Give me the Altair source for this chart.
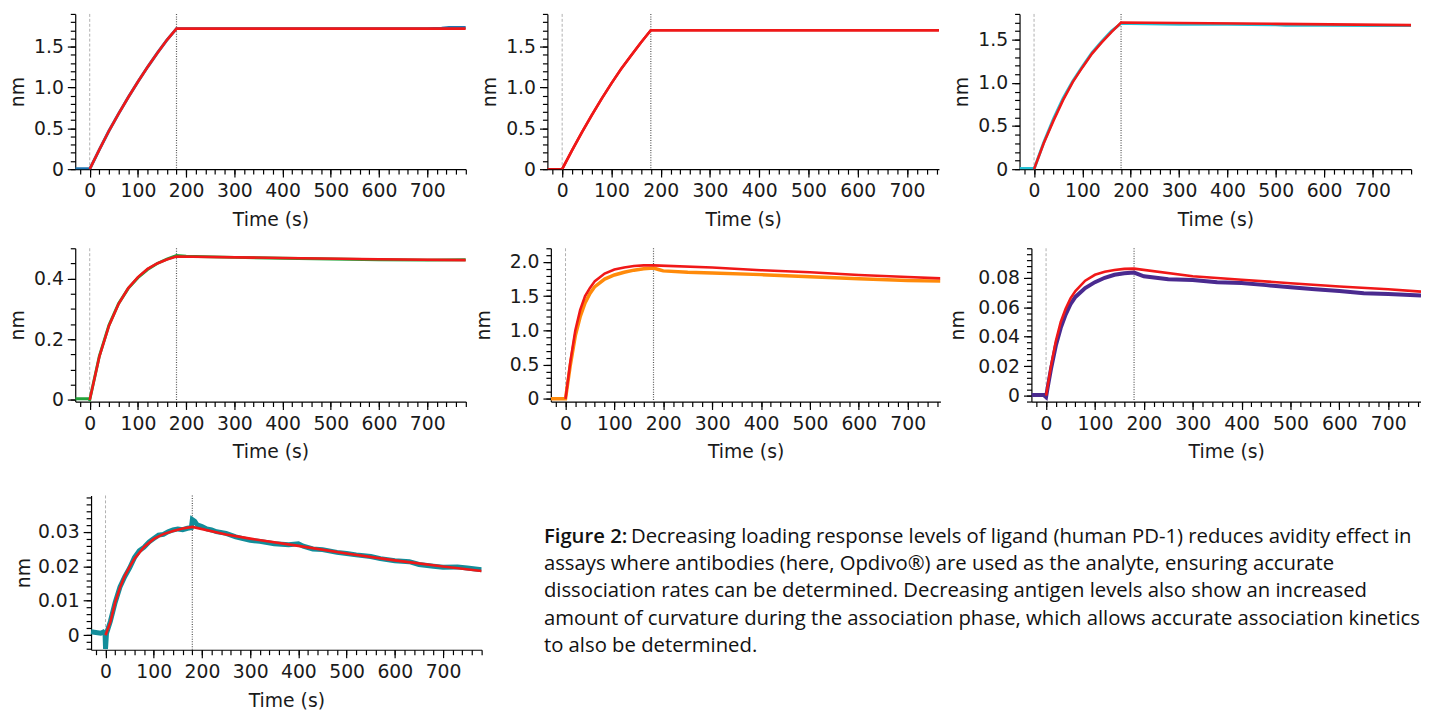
import altair as alt
import pandas as pd
import numpy as np

FONT = "DejaVu Sans"
CAP_FONT = "Open Sans"
RED = "#f01818"

# ---------------- data (time in s, response in nm) ----------------
PHASE_T = [0, 180]
X_MAJOR = [0, 100, 200, 300, 400, 500, 600, 700]

# Panel 1 (blue)
p1_data_t = [-30, -2, 0, 20, 40, 60, 80, 100, 120, 140, 160, 180, 400, 660, 700, 730, 745, 780]
p1_data_v = [0.006, 0.006, 0.0, 0.24, 0.47, 0.68, 0.88, 1.07, 1.25, 1.42, 1.58, 1.72, 1.72, 1.72, 1.72, 1.725, 1.735, 1.735]
p1_fit_t = [0, 20, 40, 60, 80, 100, 120, 140, 160, 180, 780]
p1_fit_v = [0.0, 0.24, 0.47, 0.68, 0.88, 1.07, 1.25, 1.42, 1.58, 1.72, 1.72]

# Panel 2 (red)
p2_data_t = [-30, 0, 20, 40, 60, 80, 100, 120, 140, 160, 180, 765]
p2_data_v = [0.0, 0.0, 0.23, 0.45, 0.66, 0.86, 1.05, 1.23, 1.39, 1.55, 1.70, 1.70]
p2_fit_t = [0, 20, 40, 60, 80, 100, 120, 140, 160, 180, 765]
p2_fit_v = [0.0, 0.23, 0.45, 0.66, 0.86, 1.05, 1.23, 1.39, 1.55, 1.70, 1.70]

# Panel 3 (cyan)
p3_data_t = [-30, -2, 0, 20, 40, 60, 80, 100, 120, 140, 160, 180, 200, 300, 400, 500, 520, 600, 700, 780]
p3_data_v = [0.008, 0.008, 0.0, 0.31, 0.58, 0.82, 1.02, 1.19, 1.35, 1.48, 1.60, 1.69, 1.69, 1.68, 1.68, 1.675, 1.67, 1.67, 1.665, 1.665]
p3_fit_t = [0, 20, 40, 60, 80, 100, 120, 140, 160, 180, 300, 500, 780]
p3_fit_v = [0.0, 0.30, 0.56, 0.80, 1.01, 1.18, 1.34, 1.47, 1.59, 1.70, 1.695, 1.685, 1.67]

# Panel 4 (green)
p4_data_t = [-30, -2, 0, 20, 40, 60, 80, 100, 120, 140, 160, 180, 200, 300, 400, 500, 600, 700, 780]
p4_data_v = [0.004, 0.004, 0.0, 0.145, 0.247, 0.318, 0.368, 0.403, 0.430, 0.450, 0.464, 0.476, 0.474, 0.470, 0.467, 0.465, 0.462, 0.461, 0.462]
p4_fit_t = [0, 20, 40, 60, 80, 100, 120, 140, 160, 180, 400, 600, 780]
p4_fit_v = [0.0, 0.143, 0.245, 0.317, 0.369, 0.405, 0.432, 0.450, 0.463, 0.473, 0.468, 0.464, 0.461]

# Panel 5 (orange)
p5_data_t = [-30, 0, 10, 20, 30, 40, 50, 60, 80, 100, 120, 140, 160, 180, 190, 200, 250, 300, 400, 500, 600, 700, 767]
p5_data_v = [0.0, 0.0, 0.50, 0.92, 1.20, 1.40, 1.54, 1.64, 1.75, 1.81, 1.85, 1.88, 1.90, 1.91, 1.89, 1.87, 1.85, 1.84, 1.815, 1.785, 1.755, 1.73, 1.72]
p5_fit_t = [0, 10, 20, 30, 40, 50, 60, 80, 100, 120, 140, 160, 180, 300, 400, 500, 600, 700, 767]
p5_fit_v = [0.0, 0.55, 1.00, 1.30, 1.50, 1.62, 1.72, 1.83, 1.89, 1.92, 1.94, 1.95, 1.95, 1.92, 1.88, 1.85, 1.81, 1.78, 1.76]

# Panel 6 (purple)
p6_data_t = [-30, -5, 0, 3, 10, 20, 30, 40, 50, 60, 80, 100, 120, 140, 160, 180, 200, 250, 300, 350, 400, 450, 500, 550, 600, 650, 700, 767]
p6_data_v = [0.0005, 0.0005, -0.001, 0.005, 0.018, 0.034, 0.046, 0.055, 0.062, 0.067, 0.073, 0.077, 0.080, 0.082, 0.083, 0.0835, 0.081, 0.079, 0.0785, 0.077, 0.0765, 0.075, 0.0735, 0.0722, 0.071, 0.0695, 0.069, 0.068]
p6_fit_t = [0, 10, 20, 30, 40, 50, 60, 80, 100, 120, 140, 160, 180, 300, 400, 500, 600, 700, 767]
p6_fit_v = [0.0, 0.020, 0.037, 0.050, 0.059, 0.066, 0.071, 0.078, 0.082, 0.084, 0.0853, 0.086, 0.0862, 0.081, 0.0787, 0.0763, 0.074, 0.0722, 0.0706]

# Panel 7 (teal)
p7_data_t = [-30, -20, -10, -5, -1, 0, 2, 10, 20, 30, 40, 50, 60, 70, 80, 90, 100, 110, 120, 130, 140, 150, 160, 170, 178,
             180, 185, 190, 200, 210, 220, 230, 250, 270, 300, 320, 350, 380, 400, 410, 430, 450, 480, 500, 520, 550, 570,
             600, 630, 650, 680, 700, 730, 750, 780]
p7_data_v = [0.0010, 0.0008, 0.0006, 0.0009, 0.0002, -0.0040, 0.0005, 0.0040, 0.0095, 0.0140, 0.0170, 0.0195, 0.0225, 0.0245,
             0.0255, 0.0270, 0.0280, 0.0290, 0.0292, 0.0300, 0.0305, 0.0308, 0.0306, 0.0310, 0.0312,
             0.0335, 0.0330, 0.0320, 0.0315, 0.0308, 0.0305, 0.0300, 0.0295, 0.0285, 0.0275, 0.0272, 0.0265, 0.0262, 0.0265,
             0.0258, 0.0250, 0.0248, 0.0240, 0.0237, 0.0233, 0.0228, 0.0222, 0.0216, 0.0213, 0.0205, 0.0200, 0.0197, 0.0198,
             0.0195, 0.0190]
p7_fit_t = [0, 10, 20, 30, 40, 50, 60, 80, 100, 120, 140, 160, 180, 250, 300, 400, 500, 600, 700, 780]
p7_fit_v = [0.0, 0.0038, 0.0095, 0.0138, 0.0172, 0.0198, 0.0222, 0.0256, 0.0279, 0.0293, 0.0302, 0.0309, 0.0314, 0.0292,
            0.0280, 0.0259, 0.0237, 0.0217, 0.0199, 0.0186]

CAPTION_BOLD = "Figure 2:"
CAPTION_LINES = [
    "Decreasing loading response levels of ligand (human PD-1) reduces avidity effect in",
    "assays where antibodies (here, Opdivo®) are used as the analyte, ensuring accurate",
    "dissociation rates can be determined. Decreasing antigen levels also show an increased",
    "amount of curvature during the association phase, which allows accurate association kinetics",
    "to also be determined.",
]


def ticks(lo, hi, step):
    n0 = int(np.ceil(lo / step - 1e-9))
    n1 = int(np.floor(hi / step + 1e-9))
    return [round(i * step, 6) for i in range(n0, n1 + 1)]


def panel(data_t, data_v, fit_t, fit_v, color, dwidth, xmax, ydom, ymajor, ystep, fmt, w, h, tpad, xoff=0):
    if xoff:
        xs = alt.Scale(domain=[-30, xmax], nice=False, zero=False, range=[xoff, w + xoff])
    else:
        xs = alt.Scale(domain=[-30, xmax], nice=False, zero=False)
    ys = alt.Scale(domain=ydom, nice=False, zero=False)
    df_d = pd.DataFrame({"t": data_t, "v": data_v})
    df_f = pd.DataFrame({"t": fit_t, "v": fit_v})
    df_p = pd.DataFrame({"t": PHASE_T, "k": ["start", "end"]})

    label_expr = f"datum.value == 0 ? '0' : format(datum.value, '{fmt}')"
    x_major = alt.Axis(orient="bottom", values=X_MAJOR, tickSize=8, title="Time (s)",
                       labelPadding=5, titlePadding=10, labelOverlap=False, labelFlush=False)
    y_major = alt.Axis(orient="left", values=ymajor, tickSize=8, title="nm", labelExpr=label_expr,
                       labelPadding=4, titlePadding=tpad, labelOverlap=False, offset=-xoff)
    x_minor = alt.Axis(orient="bottom", values=ticks(-30, xmax, 20), tickSize=5, labels=False,
                       domain=False, title=None)
    y_minor = alt.Axis(orient="left", values=ticks(ydom[0], ydom[1], ystep), tickSize=5, labels=False,
                       domain=False, title=None, offset=-xoff)

    minor = alt.Chart(df_f).mark_line(opacity=0).encode(
        x=alt.X("t:Q", scale=xs, axis=x_minor), y=alt.Y("v:Q", scale=ys, axis=y_minor))
    r0 = alt.Chart(df_p).transform_filter("datum.k == 'start'").mark_rule(
        color="#b0b0b0", strokeDash=[3, 2], strokeWidth=1).encode(x=alt.X("t:Q", scale=xs, axis=None))
    r1 = alt.Chart(df_p).transform_filter("datum.k == 'end'").mark_rule(
        color="#555555", strokeDash=[1, 1.5], strokeWidth=1.2).encode(x=alt.X("t:Q", scale=xs, axis=None))
    dline = alt.Chart(df_d).mark_line(color=color, strokeWidth=dwidth, clip=True).encode(
        x=alt.X("t:Q", scale=xs, axis=x_major), y=alt.Y("v:Q", scale=ys, axis=y_major))
    fline = alt.Chart(df_f).mark_line(color=RED, strokeWidth=2.6, clip=True).encode(
        x=alt.X("t:Q", scale=xs, axis=None), y=alt.Y("v:Q", scale=ys, axis=None))
    return alt.layer(minor, r0, r1, dline, fline).resolve_axis(x="independent", y="independent").properties(
        width=w + xoff, height=h)


p1 = panel(p1_data_t, p1_data_v, p1_fit_t, p1_fit_v, "#1f77b4", 3, 780, [0, 1.9], [0, 0.5, 1.0, 1.5], 0.1, ".1f", 395, 157, 6.5)
p2 = panel(p2_data_t, p2_data_v, p2_fit_t, p2_fit_v, "#e01010", 2.5, 765, [0, 1.9], [0, 0.5, 1.0, 1.5], 0.1, ".1f", 396, 157, 6.5)
p3 = panel(p3_data_t, p3_data_v, p3_fit_t, p3_fit_v, "#25c3d6", 3, 780, [0, 1.8], [0, 0.5, 1.0, 1.5], 0.1, ".1f", 396, 157, 6.5)
p4 = panel(p4_data_t, p4_data_v, p4_fit_t, p4_fit_v, "#22a33a", 3, 780, [-0.005, 0.5], [0, 0.2, 0.4], 0.05, ".1f", 395, 155, 6.5)
p5 = panel(p5_data_t, p5_data_v, p5_fit_t, p5_fit_v, "#ff8a0a", 3.5, 767, [-0.04, 2.2], [0, 0.5, 1.0, 1.5, 2.0], 0.1, ".1f", 394, 155, 15.5)
p6 = panel(p6_data_t, p6_data_v, p6_fit_t, p6_fit_v, "#4a2a8f", 4, 767, [-0.004, 0.1], [0, 0.02, 0.04, 0.06, 0.08], 0.004, ".2f", 394, 155, 10.5)
p7 = panel(p7_data_t, p7_data_v, p7_fit_t, p7_fit_v, "#128d9a", 5, 780, [-0.0042, 0.0405], [0, 0.01, 0.02, 0.03], 0.002, ".2f", 395, 156, 4.2, xoff=16)

# caption
cap_df = pd.DataFrame({"line": CAPTION_LINES, "row": list(range(len(CAPTION_LINES)))})
cap_layers = [
    alt.Chart(pd.DataFrame({"s": [CAPTION_BOLD]})).mark_text(
        align="left", baseline="alphabetic", font=CAP_FONT, fontSize=20.5, fontWeight=600, color="#111"
    ).encode(x=alt.value(42), y=alt.value(48), text="s:N")
]
cap_x = [130, 42, 42, 42, 42]
cap_y = [48, 75.5, 103, 130.5, 158]
for i in range(len(CAPTION_LINES)):
    cap_layers.append(
        alt.Chart(cap_df).transform_filter(f"datum.row == {i}").mark_text(
            align="left", baseline="alphabetic", font=CAP_FONT, fontSize=20.5, color="#111"
        ).encode(x=alt.value(cap_x[i]), y=alt.value(cap_y[i]), text="line:N")
    )
caption = alt.layer(*cap_layers).properties(width=900, height=156)

row1 = alt.hconcat(p1, p2, p3, spacing=13.5)
row2 = alt.hconcat(p4, p5, p6, spacing=8)
row3 = alt.hconcat(p7, caption, spacing=20)
top = alt.vconcat(row1, row2, spacing=18)
chart = alt.vconcat(top, row3, spacing=33).properties(
    padding={"left": 0, "top": 1, "right": 0, "bottom": 0}
).configure_view(stroke=None).configure_axis(
    labelFont=FONT, titleFont=FONT, labelFontSize=19, titleFontSize=19,
    labelColor="#1a1a1a", titleColor="#1a1a1a", titleFontWeight="normal",
    domainColor="#000", tickColor="#000", domainWidth=1.2, tickWidth=1.2, grid=False
)

chart.save("out.html", embed_options={"renderer": "svg", "actions": False})
